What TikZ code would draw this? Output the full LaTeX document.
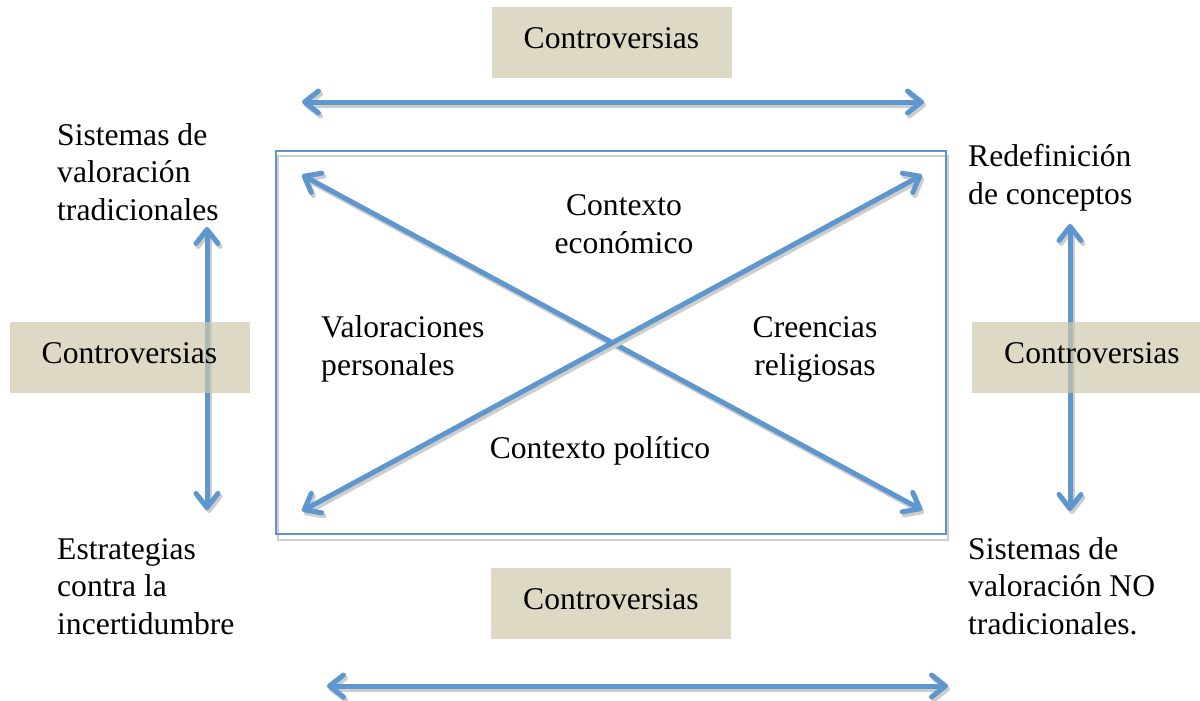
\documentclass[tikz,border=0pt]{standalone}
\usepackage{fontspec}
\setmainfont{Liberation Serif}
\usetikzlibrary{arrows.meta}
\definecolor{arrowblue}{RGB}{94,150,206}
\definecolor{frameblue}{RGB}{98,148,204}
\definecolor{shadowgrey}{RGB}{205,205,205}
\definecolor{tanfill}{RGB}{206,201,171}
\tikzset{
  myb/.tip={Straight Barb[length=14pt,width=22pt,line join=round,line cap=round]},
  arr/.style={line width=5pt, draw=arrowblue, myb-myb},
  shd/.style={line width=5pt, draw=shadowgrey, myb-myb, transform canvas={xshift=2pt,yshift=-3pt}},
  cbox/.style={fill=tanfill, fill opacity=0.7, text opacity=1, minimum width=240pt, minimum height=71pt, inner sep=0pt, text height=22pt, text depth=10pt, font=\fontsize{31.6}{37.5}\selectfont},
  lbl/.style={inner sep=0pt, font=\fontsize{31.6}{37.5}\selectfont},
}
\newcommand{\dblarrow}[2]{\draw[shd] (#1) -- (#2); \draw[arr] (#1) -- (#2);}
\begin{document}
\begin{tikzpicture}[x=1pt,y=-1pt]
\useasboundingbox (0,0) rectangle (1200,701);
\clip (0,0) rectangle (1200,701);
% frame
\draw[shadowgrey, line width=1.5pt] (278,156) rectangle (948,540);
\draw[frameblue, line width=1.6pt] (276,151) rectangle (946,534);
% coordinates
\coordinate (tl) at (302,102);
\coordinate (tr) at (924,102);
\coordinate (bl) at (327,686);
\coordinate (br) at (948,686);
\coordinate (d1a) at (302,175);
\coordinate (d1b) at (922,510);
\coordinate (d2a) at (302,511);
\coordinate (d2b) at (922,175);
\coordinate (lu) at (207,227);
\coordinate (ld) at (207,510);
\coordinate (ru) at (1070,224);
\coordinate (rd) at (1070,511);
% arrows
\dblarrow{tl}{tr}
\dblarrow{bl}{br}
\dblarrow{d1a}{d1b}
\dblarrow{d2a}{d2b}
\dblarrow{lu}{ld}
\dblarrow{ru}{rd}
% boxes
\node[cbox] (ctop) at (611.5,43) {Controversias};
\node[cbox] (cbot) at (611,603) {Controversias};
\node[cbox] (cleft) at (129.5,357) {Controversias};
\node[cbox] (cright) at (1092,357.5) {Controversias};
% labels (anchor = baseline of last line)
\node[lbl, anchor=base west, align=left] (svt) at (57,220) {Sistemas de\\valoración\\tradicionales};
\node[lbl, anchor=base west, align=left] (rdc) at (968,204) {Redefinición\\de conceptos};
\node[lbl, anchor=base west, align=left] (eci) at (57,634) {Estrategias\\contra la\\incertidumbre};
\node[lbl, anchor=base west, align=left] (svn) at (968,634) {Sistemas de\\valoración NO\\tradicionales.};
\node[lbl, anchor=base, align=center] (ce) at (624,253) {Contexto\\económico};
\node[lbl, anchor=base west, align=left] (vp) at (321,375) {Valoraciones\\personales};
\node[lbl, anchor=base, align=center] (cr) at (815,375) {Creencias\\religiosas};
\node[lbl, anchor=base] (cp) at (600,458) {Contexto político};
\end{tikzpicture}
\end{document}
